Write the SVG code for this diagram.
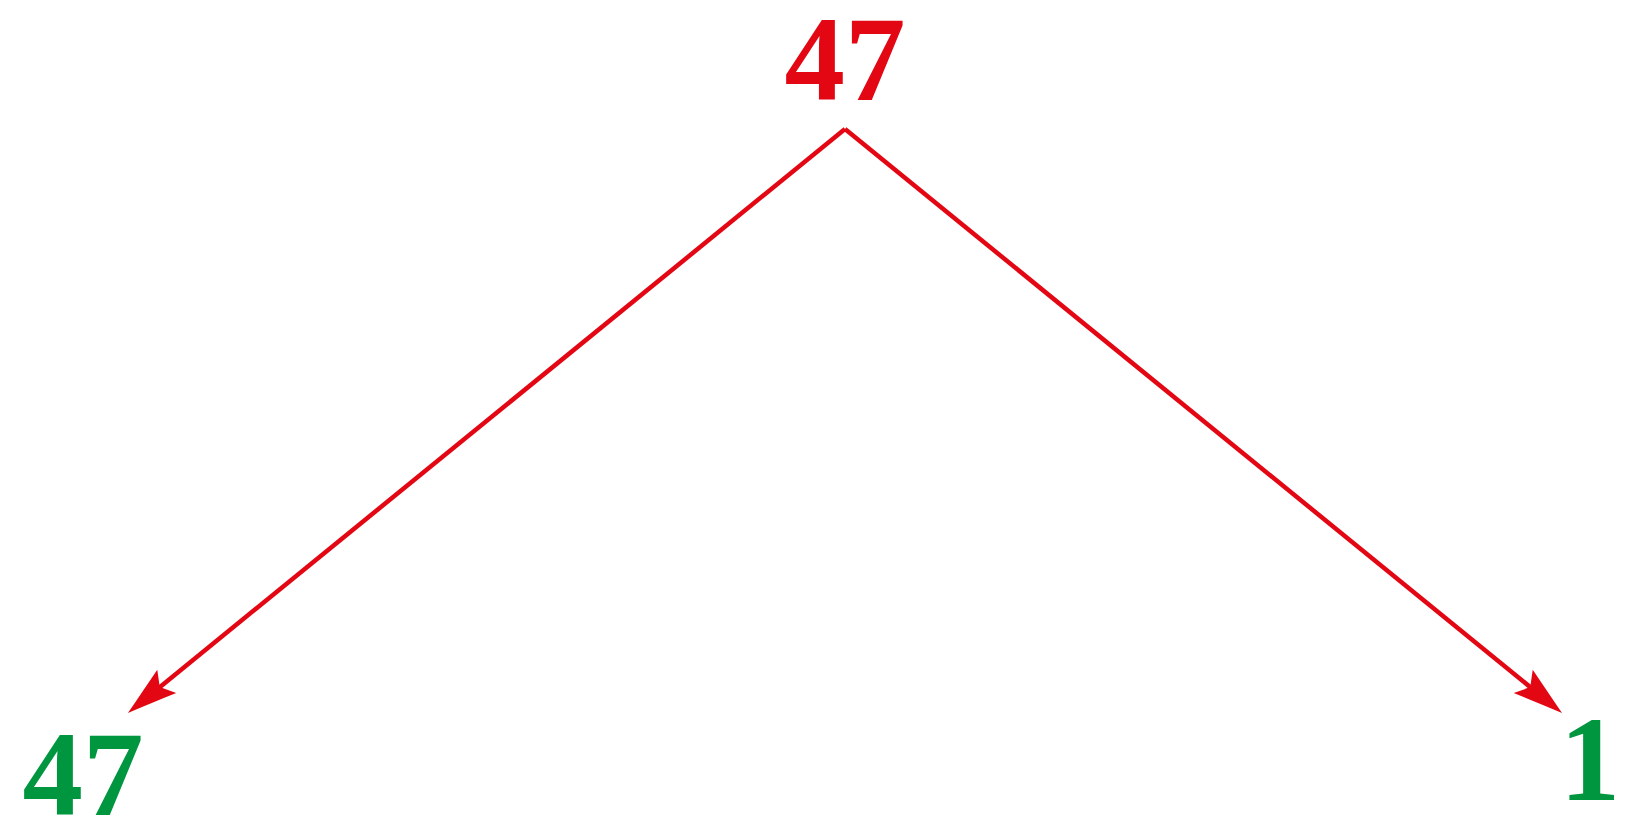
<svg xmlns="http://www.w3.org/2000/svg" width="1632" height="831" viewBox="0 0 1632 831">
<style>
.lbl{font-family:"Liberation Serif","Times New Roman",serif;font-weight:bold;font-size:121px;text-anchor:middle}
.red{fill:#E30613}
.green{fill:#009640}
.edge{stroke:#E30613;stroke-width:4.5;stroke-linejoin:round;fill:none;marker-end:url(#stealth)}
</style>
<defs>
<marker id="stealth" markerUnits="userSpaceOnUse" viewBox="-52 -17 54 34" markerWidth="54" markerHeight="34" refX="-35" refY="0" orient="auto">
<path d="M0,0 C-17,-5 -34,-10 -50,-15 L-41,0 L-50,15 C-34,10 -17,5 0,0 Z" fill="#E30613"/>
</marker>
</defs>
<g id="connectors">
<line class="edge" x1="845" y1="129" x2="155.1" y2="690.9"/>
<line class="edge" x1="845" y1="129" x2="1534.9" y2="690.9"/>
</g>
<g id="node-root"><text class="lbl red" x="845" y="100">47</text></g>
<g id="node-left"><text class="lbl green" x="83" y="815">47</text></g>
<g id="node-right"><text class="lbl green" x="1590" y="800">1</text></g>
</svg>
